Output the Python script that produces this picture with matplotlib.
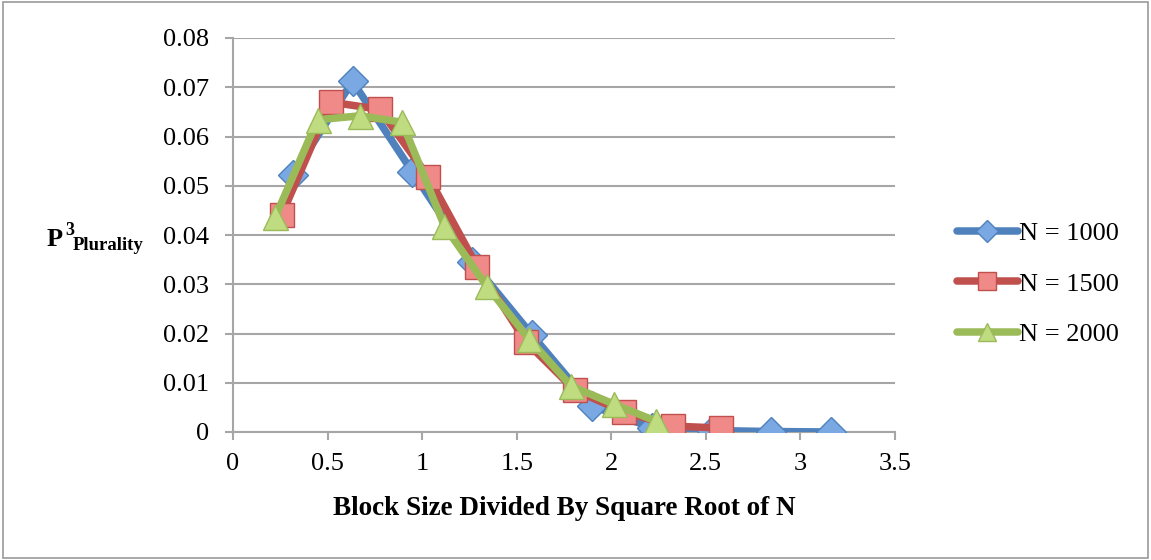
import numpy as np
import matplotlib.pyplot as plt
from matplotlib.patches import Rectangle

# block size / sqrt(N) for each population size
x_1000 = [0.316, 0.632, 0.949, 1.265, 1.581, 1.897, 2.214, 2.530, 2.846, 3.162]
p_1000 = [0.0522, 0.0712, 0.0528, 0.0345, 0.0197, 0.0053, 0.0009, 0.0003, 0.0001, 0.0]

x_1500 = [0.258, 0.516, 0.775, 1.033, 1.291, 1.549, 1.807, 2.066, 2.324, 2.582]
p_1500 = [0.0441, 0.0670, 0.0655, 0.0518, 0.0336, 0.0183, 0.0085, 0.0041, 0.0012, 0.0008]

x_2000 = [0.224, 0.447, 0.671, 0.894, 1.118, 1.342, 1.565, 1.789, 2.012, 2.236]
p_2000 = [0.0437, 0.0634, 0.0642, 0.0629, 0.0418, 0.0296, 0.0189, 0.0093, 0.0057, 0.0022]

x_ticks = [0, 0.5, 1, 1.5, 2, 2.5, 3, 3.5]
x_tick_labels = ['0', '0.5', '1', '1.5', '2', '2.5', '3', '3.5']
y_ticks = [0, 0.01, 0.02, 0.03, 0.04, 0.05, 0.06, 0.07, 0.08]
y_tick_labels = ['0', '0.01', '0.02', '0.03', '0.04', '0.05', '0.06', '0.07', '0.08']

series = [
    (x_1000, p_1000, 'N = 1000', 'D', '#4F81BD', '#7AA8E2', 15),
    (x_1500, p_1500, 'N = 1500', 's', '#C0504D', '#F08A88', 17),
    (x_2000, p_2000, 'N = 2000', '^', '#9BBB59', '#BFDC80', 18),
]

serif = ['Liberation Serif', 'DejaVu Serif']
grid_col = '#A6A6A6'
W, H = 1151, 560


def px(x, y):
    # pixel position (from top-left) -> figure fraction
    return x / W, 1 - y / H


fig = plt.figure(figsize=(W / 100, H / 100), dpi=100)
ax = fig.add_axes([233 / W, 1 - 432 / H, (895 - 233) / W, (432 - 38) / H])

for xs, ys, lab, mk, col, fill, ms in series:
    ax.plot(xs, ys, color=col, linewidth=5.4, solid_capstyle='round',
            solid_joinstyle='round', marker=mk, markersize=ms,
            markerfacecolor=fill, markeredgecolor=col, markeredgewidth=1,
            label=lab, zorder=3)

ax.set_xlim(0, 3.5)
ax.set_ylim(0, 0.08)
ax.set_xticks(x_ticks)
ax.set_xticklabels(x_tick_labels)
ax.set_yticks(y_ticks)
ax.set_yticklabels(y_tick_labels)

ax.grid(axis='y', color=grid_col, linewidth=1.5)
ax.set_axisbelow(True)
for s in ['top', 'right']:
    ax.spines[s].set_visible(False)
for s in ['left', 'bottom']:
    ax.spines[s].set_color(grid_col)
    ax.spines[s].set_linewidth(1.5)
ax.tick_params(axis='both', direction='out', length=6, width=1.5, color=grid_col,
               labelsize=19)
ax.tick_params(axis='y', pad=11)
ax.tick_params(axis='x', pad=9)
for t in ax.get_xticklabels() + ax.get_yticklabels():
    t.set_family(serif)

ax.set_xlabel('Block Size Divided By Square Root of N', fontsize=19.5,
              fontweight='bold', family=serif, labelpad=15)

# y-axis title P^3 with "Plurality" subscript
fig.text(*px(47, 246), 'P', fontsize=19, fontweight='bold', family=serif,
         ha='left', va='baseline')
fig.text(*px(65, 235), '3', fontsize=13, fontweight='bold', family=serif,
         ha='left', va='baseline')
fig.text(*px(73, 250), 'Plurality', fontsize=13.5, fontweight='bold', family=serif,
         ha='left', va='baseline')

leg = ax.legend(loc='center left', bbox_to_anchor=(1.058, 0.376), frameon=False,
                prop={'family': serif, 'size': 19}, handlelength=2.3,
                handletextpad=0.05, labelspacing=1.02, markerscale=0.75)

fig.patches.append(Rectangle((0.003, 0.003), 0.994, 0.994, transform=fig.transFigure,
                             fill=False, edgecolor='#9A9A9A', linewidth=1.2))

fig.savefig('out.png', dpi=100)
